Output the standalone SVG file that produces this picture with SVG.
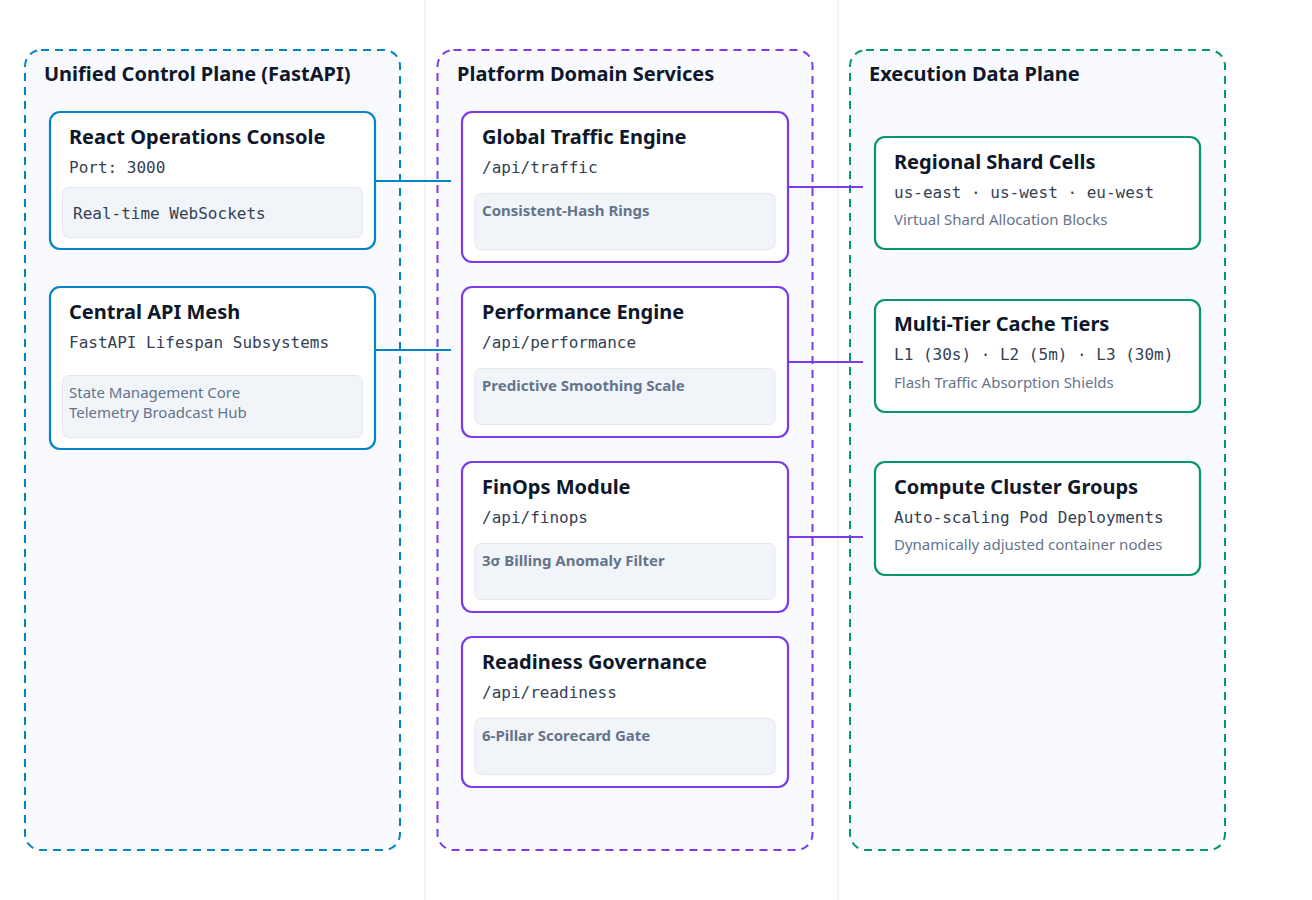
<svg xmlns="http://www.w3.org/2000/svg" width="1312" height="900" viewBox="0 0 1312 900">
<style>
.sep{stroke:#eef2f6;stroke-width:1.5}
.cl{fill:#f8fafd;stroke-width:2;stroke-dasharray:8 6}
.ct{font-family:"Noto Sans","Open Sans",sans-serif;font-weight:700;font-size:20px;fill:#0f172a}
.nd{fill:#ffffff;stroke-width:2.2}
.nt{font-family:"Noto Sans","Open Sans",sans-serif;font-weight:700;font-size:20px;fill:#0f172a}
.mono{font-family:"DejaVu Sans Mono","Liberation Mono",monospace;font-size:16px;fill:#334155}
.inner{fill:#f1f5f9;stroke:#e2e8f0;stroke-width:1}
.gray{font-family:"Noto Sans","Open Sans",sans-serif;font-size:15px;fill:#64748b}
.gb{font-family:"Noto Sans","Open Sans",sans-serif;font-size:15px;font-weight:700;fill:#64748b}
.blue{stroke:#0284c7}.purple{stroke:#7c3aed}.green{stroke:#059669}
.edge{stroke-width:2;fill:none}
</style>
<rect width="1312" height="900" fill="#ffffff"/>
<line class="sep" x1="425" y1="0" x2="425" y2="900"/>
<line class="sep" x1="838" y1="0" x2="838" y2="900"/>

<g id="cluster-control">
<rect class="cl blue" x="25" y="50" width="375" height="800" rx="16"/>
<text class="ct" x="44" y="81">Unified Control Plane (FastAPI)</text>
</g>
<g id="cluster-domain">
<rect class="cl purple" x="437.5" y="50" width="375" height="800" rx="16"/>
<text class="ct" x="457" y="81">Platform Domain Services</text>
</g>
<g id="cluster-data">
<rect class="cl green" x="850" y="50" width="375" height="800" rx="16"/>
<text class="ct" x="869" y="81">Execution Data Plane</text>
</g>

<g id="connectors">
<line class="edge blue" x1="375" y1="181" x2="451" y2="181"/>
<line class="edge blue" x1="375" y1="350" x2="451" y2="350"/>
<line class="edge purple" x1="788" y1="187" x2="863" y2="187"/>
<line class="edge purple" x1="788" y1="362" x2="863" y2="362"/>
<line class="edge purple" x1="788" y1="537" x2="863" y2="537"/>
</g>

<g id="react-console">
<rect class="nd blue" x="50" y="112" width="325" height="137" rx="10"/>
<text class="nt" x="69" y="144">React Operations Console</text>
<text class="mono" x="69" y="173">Port: 3000</text>
<rect class="inner" x="62.5" y="187.5" width="300" height="50" rx="6"/>
<text class="mono" x="73" y="219">Real-time WebSockets</text>
</g>
<g id="central-api">
<rect class="nd blue" x="50" y="287" width="325" height="162" rx="10"/>
<text class="nt" x="69" y="319">Central API Mesh</text>
<text class="mono" x="69" y="348">FastAPI Lifespan Subsystems</text>
<rect class="inner" x="62.5" y="375.5" width="300" height="62" rx="6"/>
<text class="gray" x="69" y="398">State Management Core</text>
<text class="gray" x="69" y="418">Telemetry Broadcast Hub</text>
</g>

<g id="traffic-engine">
<rect class="nd purple" x="462" y="112" width="326" height="150" rx="10"/>
<text class="nt" x="482" y="144">Global Traffic Engine</text>
<text class="mono" x="482" y="173">/api/traffic</text>
<rect class="inner" x="475" y="193.5" width="300" height="56" rx="6"/>
<text class="gb" x="482" y="216">Consistent-Hash Rings</text>
</g>
<g id="performance-engine">
<rect class="nd purple" x="462" y="287" width="326" height="150" rx="10"/>
<text class="nt" x="482" y="319">Performance Engine</text>
<text class="mono" x="482" y="348">/api/performance</text>
<rect class="inner" x="475" y="368.5" width="300" height="56" rx="6"/>
<text class="gb" x="482" y="391">Predictive Smoothing Scale</text>
</g>
<g id="finops-module">
<rect class="nd purple" x="462" y="462" width="326" height="150" rx="10"/>
<text class="nt" x="482" y="494">FinOps Module</text>
<text class="mono" x="482" y="523">/api/finops</text>
<rect class="inner" x="475" y="543.5" width="300" height="56" rx="6"/>
<text class="gb" x="482" y="566">3σ Billing Anomaly Filter</text>
</g>
<g id="readiness-governance">
<rect class="nd purple" x="462" y="637" width="326" height="150" rx="10"/>
<text class="nt" x="482" y="669">Readiness Governance</text>
<text class="mono" x="482" y="698">/api/readiness</text>
<rect class="inner" x="475" y="718.5" width="300" height="56" rx="6"/>
<text class="gb" x="482" y="741">6-Pillar Scorecard Gate</text>
</g>

<g id="shard-cells">
<rect class="nd green" x="875" y="137" width="325" height="112" rx="10"/>
<text class="nt" x="894" y="169">Regional Shard Cells</text>
<text class="mono" x="894" y="198">us-east · us-west · eu-west</text>
<text class="gray" x="894" y="225">Virtual Shard Allocation Blocks</text>
</g>
<g id="cache-tiers">
<rect class="nd green" x="875" y="300" width="325" height="112" rx="10"/>
<text class="nt" x="894" y="331">Multi-Tier Cache Tiers</text>
<text class="mono" x="894" y="360">L1 (30s) · L2 (5m) · L3 (30m)</text>
<text class="gray" x="894" y="388">Flash Traffic Absorption Shields</text>
</g>
<g id="compute-clusters">
<rect class="nd green" x="875" y="462" width="325" height="113" rx="10"/>
<text class="nt" x="894" y="494">Compute Cluster Groups</text>
<text class="mono" x="894" y="523">Auto-scaling Pod Deployments</text>
<text class="gray" x="894" y="550">Dynamically adjusted container nodes</text>
</g>
</svg>
